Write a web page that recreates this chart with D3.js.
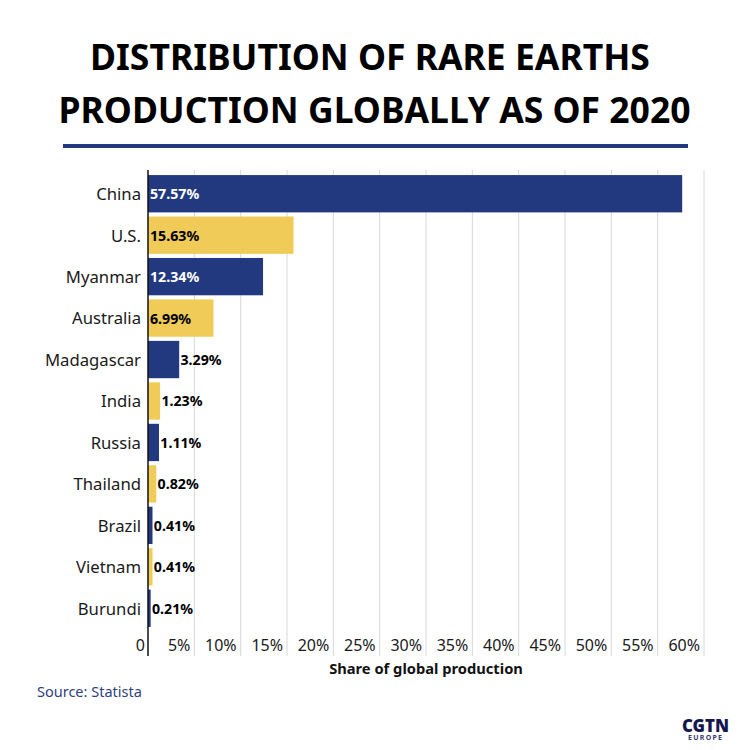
<!DOCTYPE html>
<html>
<head>
<meta charset="utf-8">
<script src="https://cdn.jsdelivr.net/npm/d3@7"></script>
<style>
  html, body { margin: 0; padding: 0; background: #fff; }
  text { font-family: "Noto Sans", "Open Sans", sans-serif; }
</style>
</head>
<body>
<div id="chart"></div>
<script>
const countries = ["China", "U.S.", "Myanmar", "Australia", "Madagascar", "India", "Russia", "Thailand", "Brazil", "Vietnam", "Burundi"];
const shares = [57.57, 15.63, 12.34, 6.99, 3.29, 1.23, 1.11, 0.82, 0.41, 0.41, 0.21];
const tickValues = [5, 10, 15, 20, 25, 30, 35, 40, 45, 50, 55, 60];
const titleLines = ["DISTRIBUTION OF RARE EARTHS", "PRODUCTION GLOBALLY AS OF 2020"];

const navy = "#22397f", yellow = "#f0cb58";

const svg = d3.select('#chart').append('svg')
    .attr('width', 750)
    .attr('height', 750)
    .style('display', 'block');

// title and rule
svg.selectAll('.title')
    .data(titleLines)
    .enter().append('text')
    .attr('class', 'title')
    .attr('x', (d, i) => i === 0 ? 370 : 374.5)
    .attr('y', (d, i) => 70 + i * 53)
    .attr('text-anchor', 'middle')
    .attr('font-size', 35.5)
    .attr('font-weight', 700)
    .attr('fill', '#000')
    .text(d => d);

svg.append('rect')
    .attr('x', 63).attr('y', 144)
    .attr('width', 625).attr('height', 4)
    .attr('fill', navy);

const x = d3.scaleLinear().domain([0, 60]).range([148, 704]);
const y = d3.scaleBand().domain(countries).range([173, 629]).paddingInner(0.1).paddingOuter(0.05);
const plotTop = 170, plotBottom = 656;

// grid lines
svg.append('g')
    .selectAll('line')
    .data(tickValues)
    .enter().append('line')
    .attr('x1', d => x(d)).attr('x2', d => x(d))
    .attr('y1', plotTop).attr('y2', plotBottom)
    .attr('stroke', '#d8d8d8')
    .attr('stroke-width', 1);

// bars
svg.append('g')
    .selectAll('rect')
    .data(shares)
    .enter().append('rect')
    .attr('x', x(0))
    .attr('y', (d, i) => y(countries[i]))
    .attr('width', d => x(d) - x(0) + 0.7)
    .attr('height', y.bandwidth())
    .attr('fill', (d, i) => i % 2 === 0 ? navy : yellow);

// zero line
svg.append('line')
    .attr('x1', x(0)).attr('x2', x(0))
    .attr('y1', plotTop).attr('y2', plotBottom)
    .attr('stroke', '#111')
    .attr('stroke-width', 1.5);

// country labels
svg.append('g')
    .selectAll('text')
    .data(countries)
    .enter().append('text')
    .attr('x', 141)
    .attr('y', d => y(d) + y.bandwidth() / 2 + 0.5)
    .attr('dy', '.35em')
    .attr('text-anchor', 'end')
    .attr('font-size', 16.7)
    .attr('fill', '#1a1a1a')
    .text(d => d);

// value labels: inside the bar when it is long enough
svg.append('g')
    .selectAll('text')
    .data(shares)
    .enter().append('text')
    .attr('x', d => d > 5 ? x(0) + 2 : x(d) + 2)
    .attr('y', (d, i) => y(countries[i]) + y.bandwidth() / 2 + 0.5)
    .attr('dy', '.35em')
    .attr('font-size', 14.2)
    .attr('font-weight', 700)
    .attr('fill', (d, i) => (d > 5 && i % 2 === 0) ? '#fff' : '#000')
    .text(d => d.toFixed(2) + '%');

// x tick labels sit just left of each grid line
svg.append('g')
    .selectAll('text')
    .data(tickValues)
    .enter().append('text')
    .attr('x', d => x(d) - 4)
    .attr('y', 651)
    .attr('text-anchor', 'end')
    .attr('font-size', 16)
    .attr('fill', '#1a1a1a')
    .text(d => d + '%');

svg.append('text')
    .attr('x', x(0) - 3).attr('y', 651)
    .attr('text-anchor', 'end')
    .attr('font-size', 16)
    .attr('fill', '#1a1a1a')
    .text('0');

svg.append('text')
    .attr('x', 426).attr('y', 674)
    .attr('text-anchor', 'middle')
    .attr('font-size', 14.7)
    .attr('font-weight', 700)
    .attr('fill', '#111')
    .text('Share of global production');

svg.append('text')
    .attr('x', 37).attr('y', 697)
    .attr('font-size', 14.5)
    .attr('fill', '#2f3f7f')
    .text('Source: Statista');

// logo
svg.append('text')
    .attr('x', 705.5).attr('y', 732)
    .attr('text-anchor', 'middle')
    .attr('font-size', 18)
    .attr('font-weight', 900)
    .attr('textLength', 47)
    .attr('lengthAdjust', 'spacingAndGlyphs')
    .attr('fill', '#16164f')
    .text('CGTN');

svg.append('text')
    .attr('x', 705).attr('y', 740)
    .attr('text-anchor', 'middle')
    .attr('font-size', 7)
    .attr('font-weight', 700)
    .attr('textLength', 34)
    .attr('lengthAdjust', 'spacing')
    .attr('fill', '#3b3b70')
    .text('EUROPE');
</script>
</body>
</html>
